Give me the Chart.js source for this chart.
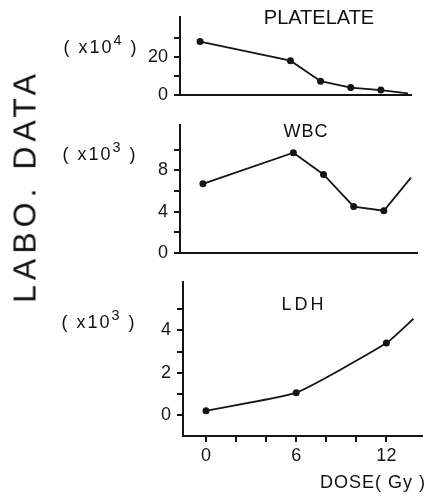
<!DOCTYPE html>
<html>
<head>
<meta charset="utf-8">
<script src="https://cdn.jsdelivr.net/npm/chart.js@4.4.0/dist/chart.umd.min.js"></script>
<style>
  body { margin: 0; background: #fff; }
  #wrap { position: relative; width: 431px; height: 497px; overflow: hidden;
          font-family: "Liberation Sans", Arial, sans-serif; color: #111; }
  canvas { position: absolute; left: 0; }
  .lbl { position: absolute; white-space: nowrap; transform: translate(-50%, -50%); }
  .lbl sup { font-size: 80%; position: relative; top: -1px; }
</style>
</head>
<body>
<div id="wrap">
  <canvas id="c1" width="431" height="112" style="top:0px"></canvas>
  <canvas id="c2" width="431" height="162" style="top:108px"></canvas>
  <canvas id="c3" width="431" height="201" style="top:265px"></canvas>

  <div class="lbl" style="left:25px;top:186px;font-size:32px;letter-spacing:5px;transform:translate(-50%,-50%) rotate(-90deg);">LABO.&nbsp;DATA</div>
  <div class="lbl" id="n1" style="left:319px;top:17px;font-size:20px;"></div>
  <div class="lbl" id="n2" style="left:306px;top:131px;font-size:18px;letter-spacing:1px;"></div>
  <div class="lbl" id="n3" style="left:304px;top:304px;font-size:18px;letter-spacing:3px;"></div>
  <div class="lbl" id="m1" style="left:101px;top:45px;font-size:18px;letter-spacing:2px;"></div>
  <div class="lbl" id="m2" style="left:100px;top:152px;font-size:18px;letter-spacing:2px;"></div>
  <div class="lbl" id="m3" style="left:99px;top:320px;font-size:18px;letter-spacing:2px;"></div>
  <div class="lbl" style="left:373px;top:482px;font-size:18px;letter-spacing:1px;">DOSE( Gy )</div>
</div>
<script>
// datos
const panelNames = ["PLATELATE", "WBC", "LDH"];
const multExp = ["4", "3", "3"];

const dose = [0, 6, 8, 10, 12, 13.8];
const plateletValues = [28, 18, 7.3, 4, 2.7, 1];
const wbcValues = [6.7, 9.7, 7.6, 4.5, 4.1, 7.3];
const ldhDose = [0, 6, 12, 13.8];
const ldhValues = [0.2, 1.05, 3.4, 4.55];

const plateletTicks = [0, 10, 20, 30];
const plateletLabels = [0, 20];
const wbcTicks = [0, 2, 4, 6, 8, 10];
const wbcLabels = [0, 4, 8];
const ldhTicks = [0, 1, 2, 3, 4, 5];
const ldhLabels = [0, 2, 4];
const doseTicks = [0, 2, 4, 6, 8, 10, 12];
const doseLabels = [0, 6, 12];

panelNames.forEach((n, i) => {
  document.getElementById("n" + (i + 1)).textContent = n;
  document.getElementById("m" + (i + 1)).innerHTML = "( x10<sup>" + multExp[i] + "</sup> )";
});

const ink = "#151515";
const font = { family: "'Liberation Sans', Arial, sans-serif", size: 18 };

function makePanel(id, xs, ys, p) {
  const n = xs.length;
  const cfg = {
    type: "line",
    data: {
      datasets: [{
        data: xs.map((x, i) => ({ x: x, y: ys[i] })),
        borderColor: ink,
        backgroundColor: ink,
        borderWidth: 1.8,
        pointRadius: (c) => (c.dataIndex === n - 1 ? 0 : 2.6),
        pointHoverRadius: 2.6,
        tension: p.tension || 0,
      }],
    },
    options: {
      responsive: false,
      animation: false,
      layout: { padding: { top: p.padTop, right: p.padRight, left: 0, bottom: 0 } },
      plugins: { legend: { display: false }, tooltip: { enabled: false } },
      scales: {
        x: {
          type: "linear",
          min: p.xMin,
          max: p.xMax,
          border: { display: true, color: ink, width: 2 },
          grid: { display: true, drawOnChartArea: false, drawTicks: p.xTicks, tickLength: 6, color: ink, lineWidth: 2 },
          ticks: {
            display: p.xTicks,
            autoSkip: false,
            maxRotation: 0,
            padding: 3,
            color: ink,
            font: font,
            callback: (v) => (doseLabels.includes(v) ? String(v) : ""),
          },
          afterBuildTicks: (s) => { s.ticks = doseTicks.map((v) => ({ value: v })); },
          afterFit: (s) => { s.height = p.xHeight; },
        },
        y: {
          min: p.yMin,
          max: p.yMax,
          border: { display: true, color: ink, width: 2 },
          grid: { display: true, drawOnChartArea: false, drawTicks: true, tickLength: 6, color: ink, lineWidth: 2 },
          ticks: {
            padding: 6,
            color: ink,
            font: font,
            callback: (v) => (p.labels.includes(v) ? String(v) : ""),
          },
          afterBuildTicks: (s) => { s.ticks = p.ticks.map((v) => ({ value: v })); },
          afterFit: (s) => { s.width = p.yWidth; },
        },
      },
    },
  };
  return new Chart(document.getElementById(id), cfg);
}

makePanel("c1", dose, plateletValues, {
  padTop: 10, padRight: 20, xMin: -1.33, xMax: 14.0, xTicks: false, xHeight: 12,
  yMin: 0, yMax: 40.9, ticks: plateletTicks, labels: plateletLabels, yWidth: 180,
});
makePanel("c2", dose, wbcValues, {
  padTop: 12, padRight: 14, xMin: -1.52, xMax: 14.2, xTicks: false, xHeight: 12,
  yMin: 0, yMax: 12.4, ticks: wbcTicks, labels: wbcLabels, yWidth: 180,
});
makePanel("c3", ldhDose, ldhValues, {
  padTop: 10, padRight: 9, xMin: -1.53, xMax: 14.37, xTicks: true, xHeight: 30,
  yMin: -1, yMax: 6.3, ticks: ldhTicks, labels: ldhLabels, yWidth: 183, tension: 0.15,
});
</script>
</body>
</html>
